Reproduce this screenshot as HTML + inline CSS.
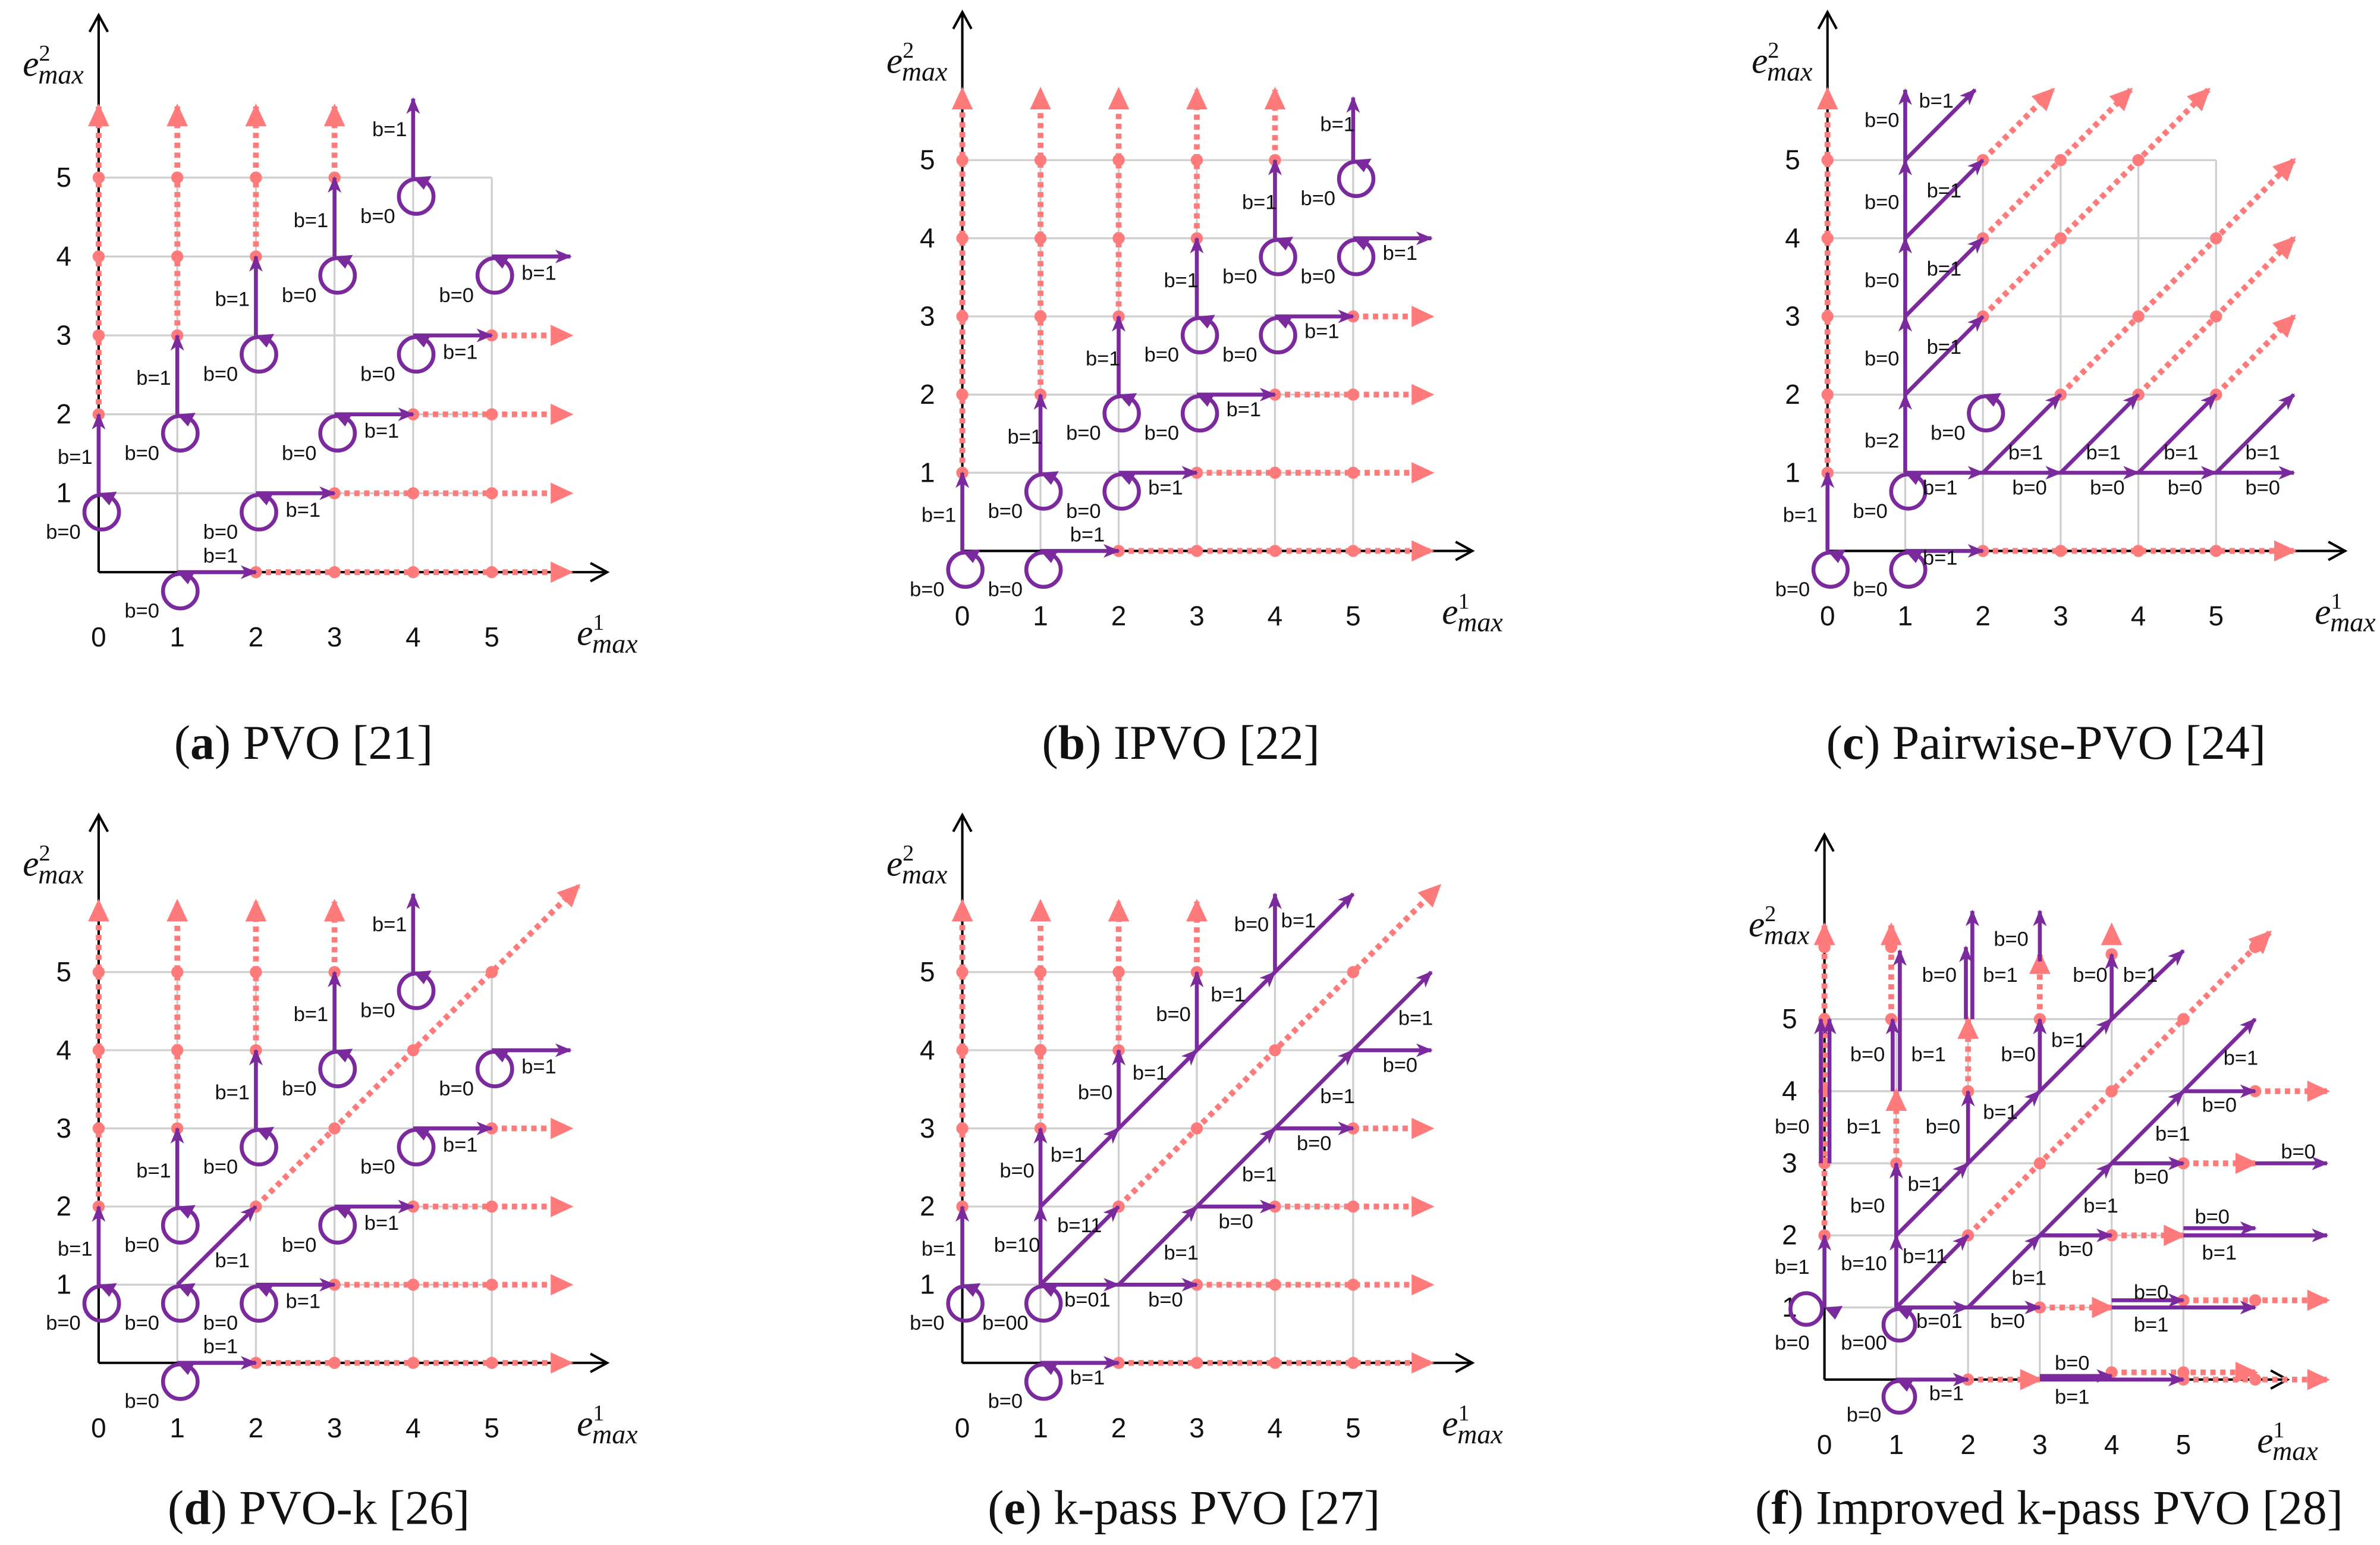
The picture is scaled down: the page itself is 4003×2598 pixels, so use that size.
<!DOCTYPE html>
<html><head><meta charset="utf-8">
<style>
html,body{margin:0;padding:0;background:#fff;}
svg{display:block;}
.tick{font-family:"Liberation Sans",sans-serif;font-size:18px;fill:#111;}
.bl{font-family:"Liberation Sans",sans-serif;font-size:13.5px;fill:#111;}
.cap{font-family:"Liberation Serif",serif;font-size:32px;fill:#111;}
.em{font-family:"Liberation Serif",serif;font-style:italic;fill:#111;}
</style></head>
<body>
<svg id="fig" width="4003" height="2598" viewBox="0 0 1568 1018" preserveAspectRatio="none" xmlns="http://www.w3.org/2000/svg">
<defs>
<marker id="pa" markerUnits="userSpaceOnUse" markerWidth="12" markerHeight="10" refX="10" refY="5" orient="auto"><path d="M0,0.5 L11,5 L0,9.5 L3,5 z" fill="#7b2a9e"/></marker>
<marker id="ra" markerUnits="userSpaceOnUse" markerWidth="16" markerHeight="14" refX="13" refY="7" orient="auto"><path d="M0,0 L15,7 L0,14 z" fill="#ff7b7b"/></marker>
<marker id="ka" markerUnits="userSpaceOnUse" markerWidth="14" markerHeight="14" refX="12" refY="7" orient="auto"><path d="M1,1 L12,7 L1,13" fill="none" stroke="#000" stroke-width="1.6"/></marker>
</defs>
</svg>
<script>
// ---------- data (units in grid coordinates) ----------
const xTicks = ['0','1','2','3','4','5'];
const yTicks = ['1','2','3','4','5'];
const captions = [['a',') PVO [21]'],['b',') IPVO [22]'],['c',') Pairwise-PVO [24]'],['d',') PVO-k [26]'],['e',') k-pass PVO [27]'],['f',') Improved k-pass PVO [28]']];

const aRedV = [[0,2,5.9],[1,3,5.9],[2,4,5.9],[3,5,5.9]];
const aRedH = [[0,2,6],[1,3,6],[2,4,6],[3,5,6]];
const aRedD = [];
const aLoops = [[0,1,'b=0'],[1,2,'b=0'],[2,3,'b=0'],[3,4,'b=0'],[4,5,'b=0'],[1,0,'b=0'],[2,1,'b=0'],[3,2,'b=0'],[4,3,'b=0'],[5,4,'b=0']];
const aPurple = [[0,1,0,2,'b=1',-0.3,1.45],[1,2,1,3,'b=1',0.7,2.45],[2,3,2,4,'b=1',1.7,3.45],[3,4,3,5,'b=1',2.7,4.45],[4,5,4,6,'b=1',3.7,5.6],
 [1,0,2,0,'b=1',1.55,0.2],[2,1,3,1,'b=1',2.6,0.78],[3,2,4,2,'b=1',3.6,1.78],[4,3,5,3,'b=1',4.6,2.78],[5,4,6,4,'b=1',5.6,3.78]];

const bRedV = [[0,1,5.9],[1,2,5.9],[2,3,5.9],[3,4,5.9],[4,5,5.9]];
const bRedH = [[0,2,6],[1,3,6],[2,4,6],[3,5,6]];
const bRedD = [];
const bLoops = [[0,0,'b=0'],[1,0,'b=0'],[1,1,'b=0'],[2,1,'b=0'],[2,2,'b=0'],[3,2,'b=0'],[3,3,'b=0'],[4,3,'b=0'],[4,4,'b=0'],[5,4,'b=0'],[5,5,'b=0']];
const bPurple = [[0,0,0,1,'b=1',-0.3,0.45],[1,1,1,2,'b=1',0.8,1.45],[2,2,2,3,'b=1',1.8,2.45],[3,3,3,4,'b=1',2.8,3.45],[4,4,4,5,'b=1',3.8,4.45],[5,5,5,5.8,'b=1',4.8,5.45],
 [1,0,2,0,'b=1',1.6,0.2],[2,1,3,1,'b=1',2.6,0.8],[3,2,4,2,'b=1',3.6,1.8],[4,3,5,3,'b=1',4.6,2.8],[5,4,6,4,'b=1',5.6,3.8]];

const cRedV = [[0,1,5.9]];
const cRedH = [[0,2,6]];
const cRedD = [[2,5,2.9,5.9],[2,4,3.9,5.9],[2,3,4.9,5.9],[3,2,6,5],[4,2,6,4],[5,2,6,3]];
const cLoops = [[0,0,'b=0'],[1,0,'b=0'],[1,1,'b=0'],[2,2,'b=0']];
const cPurple = [[0,0,0,1,'b=1',-0.35,0.45],[1,1,1,2,'b=2',0.7,1.4],[1,2,1,3,'b=0',0.7,2.45],[1,3,1,4,'b=0',0.7,3.45],[1,4,1,5,'b=0',0.7,4.45],[1,5,1,5.9,'b=0',0.7,5.5],
 [1,2,2,3,'b=1',1.5,2.6],[1,3,2,4,'b=1',1.5,3.6],[1,4,2,5,'b=1',1.5,4.6],[1,5,1.9,5.9,'b=1',1.4,5.75],
 [1,1,2,1,'b=1',1.45,0.8],[2,1,3,1,'b=0',2.6,0.8],[3,1,4,1,'b=0',3.6,0.8],[4,1,5,1,'b=0',4.6,0.8],[5,1,6,1,'b=0',5.6,0.8],
 [2,1,3,2,'b=1',2.55,1.25],[3,1,4,2,'b=1',3.55,1.25],[4,1,5,2,'b=1',4.55,1.25],[5,1,6,2,'b=1',5.6,1.25],[1,0,2,0,'b=1',1.45,-0.1]];

const dRedV = aRedV;
const dRedH = aRedH;
const dRedD = [[2,2,6.1,6.1]];
const dLoops = aLoops.concat([[1,1,'b=0']]);
const dPurple = aPurple.concat([[1,1,2,2,'b=1',1.7,1.3]]);

const eRedV = [[0,2,5.9],[1,3,5.9],[2,4,5.9],[3,5,5.9]];
const eRedH = [[0,2,6],[1,3,6],[2,4,6],[3,5,6]];
const eRedD = [[2,2,6.1,6.1]];
const eLoops = [[0,1,'b=0'],[1,0,'b=0'],[1,1,'b=00']];
const ePurple = [[0,1,0,2,'b=1',-0.3,1.45],[1,0,2,0,'b=1',1.6,-0.2],[1,1,1,2,'b=10',0.7,1.5],[1,2,1,3,'b=0',0.7,2.45],[1,1,2,2,'b=11',1.5,1.75],[1,1,2,1,'b=01',1.6,0.8],[2,1,3,1,'b=0',2.6,0.8],
 [1,2,2,3,'b=1',1.35,2.65],[2,3,3,4,'b=1',2.4,3.7],[3,4,4,5,'b=1',3.4,4.7],[4,5,5,6,'b=1',4.3,5.65],
 [2,3,2,4,'b=0',1.7,3.45],[3,4,3,5,'b=0',2.7,4.45],[4,5,4,6,'b=0',3.7,5.6],
 [2,1,3,2,'b=1',2.8,1.4],[3,2,4,3,'b=1',3.8,2.4],[4,3,5,4,'b=1',4.8,3.4],[5,4,6,5,'b=1',5.8,4.4],
 [3,2,4,2,'b=0',3.5,1.8],[4,3,5,3,'b=0',4.5,2.8],[5,4,6,4,'b=0',5.6,3.8]];

const fRedV = [[0,2,6.3],[1,3,4],[0.93,5,6.3],[2,4,5],[3,5,5.9],[4,5.9,6.3]];
const fRedH = [[0,2,3],[0.1,4,6],[0,5,7],[1,3,4],[1.1,5,7],[2,4,5],[3,5,6],[4,6,7]];
const fRedD = [[2,2,6.2,6.2]];
const fLoops = [[0,1,'b=0'],[1,1,'b=00'],[1,0,'b=0']];
const fPurple = [[0,1,0,2,'b=1',-0.45,1.55],[-0.05,3,-0.05,5,'b=0',-0.45,3.5],[0.07,3,0.07,5,'b=1',0.55,3.5],
 [1,1,1,2,'b=10',0.55,1.6],[1,2,1,3,'b=0',0.6,2.4],[0.95,4,0.95,5,'b=0',0.6,4.5],[1.05,4,1.05,5.95,'b=1',1.45,4.5],
 [2,3,2,4,'b=0',1.65,3.5],[1.97,5,1.97,6,'b=0',1.6,5.6],[2.06,5,2.06,6.5,'b=1',2.45,5.6],
 [3,4,3,5,'b=0',2.7,4.5],[3,5.8,3,6.5,'b=0',2.6,6.1],[4,5,4,5.9,'b=0',3.7,5.6],
 [1,2,2,3,'b=1',1.4,2.7],[2,3,3,4,'b=1',2.45,3.7],[3,4,4,5,'b=1',3.4,4.7],[4,5,5,5.95,'b=1',4.4,5.6],[1,1,2,2,'b=11',1.4,1.7],
 [2,1,3,2,'b=1',2.85,1.4],[3,2,4,3,'b=1',3.85,2.4],[4,3,5,4,'b=1',4.85,3.4],[5,4,6,5,'b=1',5.8,4.45],
 [1,1,2,1,'b=01',1.6,0.8],[2,1,3,1,'b=0',2.55,0.8],[3,2,4,2,'b=0',3.5,1.8],[4,3,5,3,'b=0',4.55,2.8],[5,4,6,4,'b=0',5.5,3.8],[6,3,7,3,'b=0',6.6,3.15],
 [5,2.1,6,2.1,'b=0',5.4,2.25],[5,2,7,2,'b=1',5.5,1.75],[4,1.1,5,1.1,'b=0',4.55,1.2],[4,1,6,1,'b=1',4.55,0.75],
 [1,0,2,0,'b=1',1.7,-0.2],[3,0.05,4,0.05,'b=0',3.45,0.22],[3,0,5,0,'b=1',3.45,-0.25]];

// layout (pixels in 1568x1018 space)
const panels = [
 {id:'a',ox:65,oy:377,ux:51.8,uy:52,yTop:10,xEnd:400,cx:200,cy:500,redV:aRedV,redH:aRedH,redD:aRedD,loops:aLoops,purple:aPurple},
 {id:'b',ox:634,oy:363,ux:51.5,uy:51.5,yTop:8,xEnd:970,cx:778,cy:500,redV:bRedV,redH:bRedH,redD:bRedD,loops:bLoops,purple:bPurple},
 {id:'c',ox:1204,oy:363,ux:51.2,uy:51.5,yTop:8,xEnd:1545,cx:1348,cy:500,redV:cRedV,redH:cRedH,redD:cRedD,loops:cLoops,purple:cPurple},
 {id:'d',ox:65,oy:898,ux:51.8,uy:51.5,yTop:537,xEnd:400,cx:210,cy:1004,redV:dRedV,redH:dRedH,redD:dRedD,loops:dLoops,purple:dPurple},
 {id:'e',ox:634,oy:898,ux:51.5,uy:51.5,yTop:537,xEnd:970,cx:780,cy:1004,redV:eRedV,redH:eRedH,redD:eRedD,loops:eLoops,purple:ePurple},
 {id:'f',ox:1202,oy:909,ux:47.3,uy:47.5,yTop:550,xEnd:1507,cx:1350,cy:1004,redV:fRedV,redH:fRedH,redD:fRedD,loops:fLoops,purple:fPurple}
];

const NS='http://www.w3.org/2000/svg';
const svg=document.getElementById('fig');
function mk(tag,attrs,parent){const e=document.createElementNS(NS,tag);for(const k in attrs)e.setAttribute(k,attrs[k]);parent.appendChild(e);return e;}

panels.forEach((p,pi)=>{
 const X=v=>p.ox+v*p.ux, Y=v=>p.oy-v*p.uy;
 const g=mk('g',{},svg);
 
 
 for(let i=1;i<=5;i++){
  const gl=mk('line',{x1:X(i),y1:Y(0),x2:X(i),y2:Y(5),stroke:'#cfcfcf','stroke-width':1.3},g);
  
  
  const gh=mk('line',{x1:X(0),y1:Y(i),x2:X(5),y2:Y(i),stroke:'#cfcfcf','stroke-width':1.3},g);
  
  
 }
 const xa=mk('line',{x1:X(0),y1:Y(0),x2:p.xEnd,y2:Y(0),stroke:'#000','stroke-width':1.6,'marker-end':'url(#ka)'},g);
 
 
 const ya=mk('line',{x1:X(0),y1:Y(0),x2:X(0),y2:p.yTop,stroke:'#000','stroke-width':1.6,'marker-end':'url(#ka)'},g);
 
 
 xTicks.forEach((t,i)=>{const e=mk('text',{x:X(i),y:p.oy+49,'text-anchor':'middle',class:'tick'},g);e.textContent=t;
  
  });
 yTicks.forEach((t,i)=>{const e=mk('text',{x:p.ox-23,y:Y(i+1)+6,'text-anchor':'middle',class:'tick'},g);e.textContent=t;
  
  });
 const ey=mk('text',{x:p.ox-50,y:(pi===5?p.oy-292:p.yTop+40),class:'em','font-size':24},g);
 ey.innerHTML='e<tspan dy="-10" font-size="15" font-style="normal">2</tspan><tspan dx="-8" dy="15" font-size="18">max</tspan>';
 
 
 const ex=mk('text',{x:p.xEnd-20,y:p.oy+48,class:'em','font-size':24},g);
 ex.innerHTML='e<tspan dy="-10" font-size="15" font-style="normal">1</tspan><tspan dx="-8" dy="15" font-size="18">max</tspan>';
 
 
 const red=(x0,y0,x1,y1)=>{
  const l=mk('line',{x1:X(x0),y1:Y(y0),x2:X(x1),y2:Y(y1),stroke:'#ff7b7b','stroke-width':3.8,'stroke-dasharray':'3.5 3','marker-end':'url(#ra)'},g);
  
  
  const n=Math.max(Math.abs(x1-x0),Math.abs(y1-y0));
  for(let k=0;k<=Math.floor(n+0.001);k++){const t=n?k/n:0;const cx=x0+(x1-x0)*t, cy=y0+(y1-y0)*t;
   if(t>0.999) continue;
   if(Math.abs(cx-Math.round(cx))<0.15&&Math.abs(cy-Math.round(cy))<0.15){
    const d=mk('circle',{cx:X(cx),cy:Y(cy),r:4,fill:'#ff7b7b'},g);
    
    }}
 };
 p.redV.forEach(r=>red(r[0],r[1],r[0],r[2]));
 p.redH.forEach(r=>red(r[1],r[0],r[2],r[0]));
 p.redD.forEach(r=>red(r[0],r[1],r[2],r[3]));
 p.loops.forEach(l=>{
  let cx=X(l[0])+2, cy=Y(l[1])+0.24*p.uy;
  if(p.id==='f'&&l[0]===0){cx=X(0)-12;cy=Y(1)+1;}
  const c=mk('circle',{cx:cx,cy:cy,r:0.22*p.ux,fill:'none',stroke:'#7b2a9e','stroke-width':2.6},g);
  
  
  const tk=mk('path',{d:`M${X(l[0])} ${Y(l[1])} l12 -1 l-5 9 z`,fill:'#7b2a9e'},g);
  
  
  const t=mk('text',{x:X(l[0]-0.45),y:Y(l[1]-0.5)+4,'text-anchor':'middle',class:'bl'},g);t.textContent=l[2];
  
  
 });
 p.purple.forEach(a=>{
  const l=mk('line',{x1:X(a[0]),y1:Y(a[1]),x2:X(a[2]),y2:Y(a[3]),stroke:'#7b2a9e','stroke-width':2.6,'marker-end':'url(#pa)'},g);
  
  
  const t=mk('text',{x:X(a[5]),y:Y(a[6])+4,'text-anchor':'middle',class:'bl'},g);t.textContent=a[4];
  
  
 });
 const cp=mk('text',{x:p.cx,y:p.cy,'text-anchor':'middle',class:'cap'},g);
 cp.innerHTML='(<tspan font-weight="bold">'+captions[pi][0]+'</tspan>'+captions[pi][1];
 
 
});
</script>
</body></html>
